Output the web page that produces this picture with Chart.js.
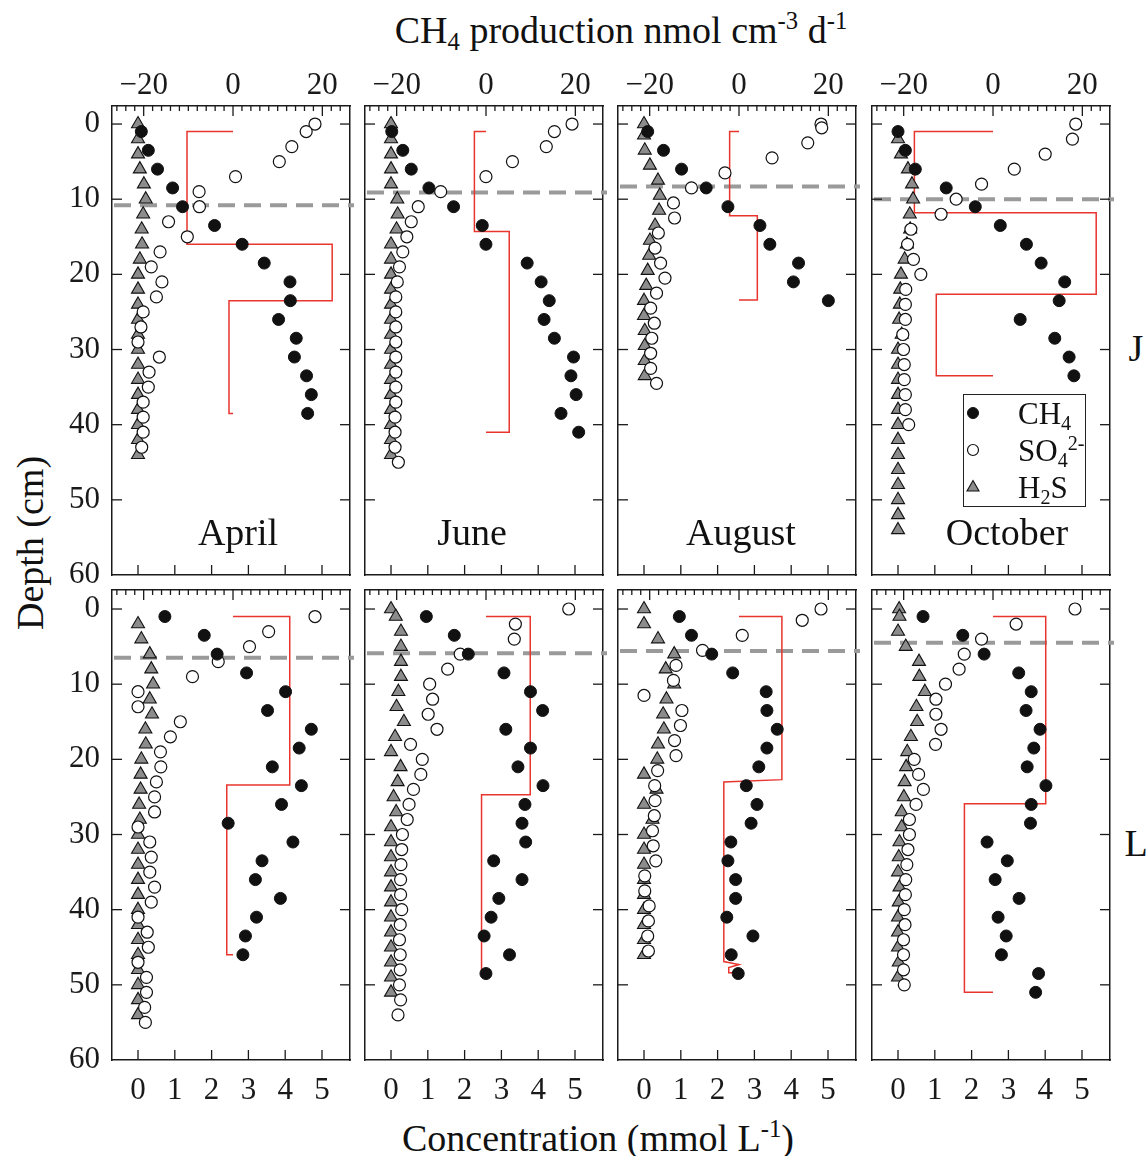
<!DOCTYPE html>
<html>
<head>
<meta charset="utf-8">
<script src="https://cdn.jsdelivr.net/npm/chart.js@4.4.0/dist/chart.umd.min.js"></script>
<style>
  body { margin: 0; background: #fff; }
  #fig { position: relative; width: 1148px; height: 1156px; overflow: hidden;
         font-family: 'Liberation Serif', 'Times New Roman', serif; color: #111; }
  #fig canvas { position: absolute; }
  .lbl { position: absolute; white-space: nowrap; line-height: 1; transform: translate(-50%, -50%); }
  .ttl { font-size: 38px; }
  .month { font-size: 38px; }
  sub, sup { font-size: 65%; line-height: 0; position: relative; vertical-align: baseline; }
  sub { top: 0.3em; }
  sup { top: -0.55em; }
  #legend { position: absolute; left: 963px; top: 394px; width: 121px; height: 111px; border: 1.2px solid #222; }
  .lg { position: absolute; left: 1018px; font-size: 31px; line-height: 1; transform: translateY(-50%); white-space: nowrap; }
  .lgsym { position: absolute; }
</style>
</head>
<body>
<div id="fig">
  <div class="lbl ttl" style="left:621px; top:30px;">CH<sub>4</sub> production nmol cm<sup>-3</sup> d<sup>-1</sup></div>
  <div class="lbl ttl" style="left:30px; top:543px; transform: translate(-50%, -50%) rotate(-90deg);">Depth (cm)</div>
  <div class="lbl ttl" style="left:598px; top:1138px;">Concentration (mmol L<sup>-1</sup>)</div>
  <div class="lbl ttl" style="left:1136px; top:348px;">J</div>
  <div class="lbl ttl" style="left:1136px; top:843px;">L</div>
</div>
<script>
// axis ticks
const concTicks = [0, 1, 2, 3, 4, 5];
const prodTicks = [-20, 0, 20];
const depthTicks = [0, 10, 20, 30, 40, 50, 60];
const months = ['April', 'June', 'August', 'October'];

// ---- site J ----
const jApr_ch4_d = [1, 3.5, 6, 8.5, 11, 13.5, 16, 18.5, 21, 23.5, 26, 28.5, 31, 33.5, 36, 38.5];
const jApr_ch4 = [0.09, 0.28, 0.53, 0.94, 1.21, 2.08, 2.83, 3.43, 4.13, 4.14, 3.82, 4.30, 4.25, 4.58, 4.71, 4.61];
const jApr_so4_d = [0, 1, 3, 5, 7, 9, 11, 13, 15, 17, 19, 21, 23, 25, 27, 29, 31, 33, 35, 37, 39, 41, 43];
const jApr_so4 = [4.81, 4.57, 4.18, 3.84, 2.65, 1.66, 1.67, 0.83, 1.34, 0.60, 0.36, 0.65, 0.50, 0.14, 0.08, 0, 0.58, 0.30, 0.28, 0.14, 0.14, 0.14, 0.10];
const jApr_h2s_d = [0, 2, 4, 6, 8, 10, 12, 14, 16, 18, 20, 22, 24, 26, 28, 30, 32, 34, 36, 38, 40, 42, 44];
const jApr_h2s = [0, 0, 0, 0.05, 0.16, 0.21, 0.14, 0.10, 0.11, 0.05, 0, 0, 0, 0, 0, 0, 0, 0, 0, 0, 0, 0, 0];
const jApr_prod_d = [1, 1, 16, 16, 23.5, 23.5, 38.5, 38.5];
const jApr_prod = [0, -10.3, -10.3, 22.2, 22.2, -0.9, -0.9, 0];

const jJun_ch4_d = [1, 3.5, 6, 8.5, 11, 13.5, 16, 18.5, 21, 23.5, 26, 28.5, 31, 33.5, 36, 38.5, 41];
const jJun_ch4 = [0.02, 0.32, 0.55, 1.03, 1.70, 2.48, 2.58, 3.70, 4.08, 4.30, 4.16, 4.44, 4.96, 4.89, 5.03, 4.62, 5.10];
const jJun_so4_d = [0, 1, 3, 5, 7, 9, 11, 13, 15, 17, 19, 21, 23, 25, 27, 29, 31, 33, 35, 37, 39, 41, 43, 45];
const jJun_so4 = [4.92, 4.44, 4.22, 3.30, 2.58, 1.35, 0.74, 0.55, 0.43, 0.32, 0.23, 0.17, 0.13, 0.13, 0.13, 0.13, 0.13, 0.13, 0.13, 0.13, 0.11, 0.11, 0.11, 0.20];
const jJun_h2s_d = [0, 2, 4, 6, 8, 10, 12, 14, 16, 18, 20, 22, 24, 26, 28, 30, 32, 34, 36, 38, 40, 42, 44];
const jJun_h2s = [0, 0, 0, 0, 0, 0.17, 0.18, 0.15, 0, 0, 0, 0, 0, 0, 0, 0, 0, 0, 0, 0, 0, 0, 0];
const jJun_prod_d = [1, 1, 14.3, 14.3, 41, 41];
const jJun_prod = [0, -2.6, -2.6, 5.2, 5.2, 0];

const jAug_ch4_d = [1, 3.5, 6, 8.5, 11, 13.5, 16, 18.5, 21, 23.5];
const jAug_ch4 = [0.10, 0.53, 1.02, 1.69, 2.28, 3.15, 3.42, 4.20, 4.06, 5.01];
const jAug_so4_d = [0, 0.5, 2.5, 4.5, 6.5, 8.5, 10.5, 12.5, 14.5, 16.5, 18.5, 20.5, 22.5, 24.5, 26.5, 28.5, 30.5, 32.5, 34.5];
const jAug_so4 = [4.81, 4.83, 4.45, 3.48, 2.20, 1.29, 0.80, 0.83, 0.39, 0.30, 0.45, 0.57, 0.34, 0.18, 0.28, 0.21, 0.18, 0.18, 0.34];
const jAug_h2s_d = [0, 1.5, 3.5, 5.5, 7.5, 9.5, 11.5, 13.5, 15.5, 17.5, 19.5, 21.5, 23.5, 25.5, 27.5, 29.5, 31.5, 33.5];
const jAug_h2s = [0, 0, 0.02, 0.16, 0.38, 0.43, 0.41, 0.30, 0.16, 0.14, 0.10, 0.06, 0, 0, 0.02, 0.02, 0.02, 0.02];
const jAug_prod_d = [1, 1, 12.2, 12.2, 23.4, 23.4];
const jAug_prod = [0, -2.1, -2.1, 4.1, 4.1, 0];

const jOct_ch4_d = [1, 3.5, 6, 8.5, 11, 13.5, 16, 18.5, 21, 23.5, 26, 28.5, 31, 33.5];
const jOct_ch4 = [0, 0.20, 0.47, 1.31, 2.10, 2.78, 3.49, 3.89, 4.53, 4.38, 3.32, 4.26, 4.65, 4.78];
const jOct_so4_d = [0, 2, 4, 6, 8, 10, 12, 14, 16, 18, 20, 22, 24, 26, 28, 30, 32, 34, 36, 38, 40];
const jOct_so4 = [4.83, 4.74, 4.00, 3.16, 2.27, 1.58, 1.17, 0.35, 0.26, 0.42, 0.62, 0.21, 0.20, 0.20, 0.13, 0.15, 0.17, 0.17, 0.20, 0.20, 0.29];
const jOct_h2s_d = [2, 4, 6, 8, 10, 12, 14, 16, 18, 20, 22, 24, 26, 28, 30, 32, 34, 36, 38, 40, 42, 44, 46, 48, 50, 52, 54];
const jOct_h2s = [0, 0.08, 0.27, 0.38, 0.41, 0.32, 0.33, 0.24, 0.18, 0.08, 0.06, 0.05, 0.03, 0.10, 0, 0, 0, 0, 0, 0, 0, 0, 0, 0, 0, 0, 0];
const jOct_prod_d = [1, 1, 11.8, 11.8, 22.65, 22.65, 33.5, 33.5];
const jOct_prod = [0, -17.6, -17.6, 23.1, 23.1, -12.7, -12.7, 0];

// ---- site L ----
const lApr_ch4_d = [1, 3.5, 6, 8.5, 11, 13.5, 16, 18.5, 21, 23.5, 26, 28.5, 31, 33.5, 36, 38.5, 41, 43.5, 46];
const lApr_ch4 = [0.73, 1.80, 2.15, 2.95, 4.01, 3.52, 4.71, 4.38, 3.65, 4.44, 3.90, 2.45, 4.21, 3.37, 3.19, 3.87, 3.22, 2.92, 2.85];
const lApr_so4_d = [1, 3, 5, 7, 9, 11, 13, 15, 17, 19, 21, 23, 25, 27, 29, 31, 33, 35, 37, 39, 41, 43, 45, 47, 49, 51, 53, 55];
const lApr_so4 = [4.81, 3.55, 3.03, 2.18, 1.48, 0, 0, 1.15, 0.88, 0.61, 0.62, 0.50, 0.45, 0.45, 0, 0.32, 0.36, 0.32, 0.45, 0.36, 0, 0.25, 0.28, 0, 0.23, 0.23, 0.18, 0.20];
const lApr_h2s_d = [2, 4, 6, 8, 10, 12, 14, 16, 18, 20, 22, 24, 26, 28, 30, 32, 34, 36, 38, 40, 42, 44, 46, 48, 50, 52, 54];
const lApr_h2s = [0, 0.09, 0.32, 0.36, 0.41, 0.32, 0.38, 0.20, 0.21, 0.09, 0.07, 0.07, 0.03, 0.05, 0, 0, 0, 0, 0, 0, 0, 0, 0, 0, 0, 0, 0];
const lApr_prod_d = [1, 1, 23.4, 23.4, 46, 46];
const lApr_prod = [0, 12.7, 12.7, -1.4, -1.4, 0];

const lJun_ch4_d = [1, 3.5, 6, 8.5, 11, 13.5, 16, 18.5, 21, 23.5, 26, 28.5, 31, 33.5, 36, 38.5, 41, 43.5, 46, 48.5];
const lJun_ch4 = [0.96, 1.72, 2.10, 3.07, 3.79, 4.12, 3.12, 3.79, 3.45, 4.13, 3.64, 3.56, 3.66, 2.79, 3.56, 2.93, 2.72, 2.53, 3.22, 2.58];
const lJun_so4_d = [0, 2, 4, 6, 8, 10, 12, 14, 16, 18, 20, 22, 24, 26, 28, 30, 32, 34, 36, 38, 40, 42, 44, 46, 48, 50, 52, 54];
const lJun_so4 = [4.83, 3.38, 3.35, 1.88, 1.54, 1.05, 1.13, 1.01, 1.25, 0.53, 0.85, 0.81, 0.61, 0.49, 0.44, 0.31, 0.29, 0.27, 0.26, 0.26, 0.29, 0.25, 0.23, 0.25, 0.25, 0.23, 0.26, 0.19];
const lJun_h2s_d = [0, 1, 3, 5, 7, 9, 11, 13, 15, 17, 19, 21, 23, 25, 27, 29, 31, 33, 35, 37, 39, 41, 43, 45, 47, 49, 51];
const lJun_h2s = [0, 0.13, 0.27, 0.27, 0.27, 0.27, 0.20, 0.15, 0.35, 0.11, 0, 0.26, 0.18, 0.07, 0.14, 0, 0, 0, 0, 0, 0, 0, 0, 0, 0, 0, 0];
const lJun_prod_d = [1, 1, 24.7, 24.7, 48.5, 48.5];
const lJun_prod = [0, 9.9, 9.9, -1.0, -1.0, 0];

const lAug_ch4_d = [1, 3.5, 6, 8.5, 11, 13.5, 16, 18.5, 21, 23.5, 26, 28.5, 31, 33.5, 36, 38.5, 41, 43.5, 46, 48.5];
const lAug_ch4 = [0.96, 1.29, 1.84, 2.41, 3.32, 3.34, 3.62, 3.34, 3.12, 2.78, 3.07, 2.91, 2.36, 2.28, 2.49, 2.49, 2.25, 2.96, 2.37, 2.56];
const lAug_so4_d = [0, 1.5, 3.5, 5.5, 7.5, 9.5, 11.5, 13.5, 15.5, 17.5, 19.5, 21.5, 23.5, 25.5, 27.5, 29.5, 31.5, 33.5, 35.5, 37.5, 39.5, 41.5, 43.5, 45.5];
const lAug_so4 = [4.81, 4.30, 2.67, 1.59, 0.87, 0.80, 0, 1.03, 0.99, 0.83, 0.87, 0.37, 0.29, 0.30, 0.28, 0.23, 0.25, 0.32, 0.02, 0.02, 0.14, 0.12, 0.10, 0.12];
const lAug_h2s_d = [0, 2, 4, 6, 8, 10, 12, 14, 16, 18, 20, 22, 24, 26, 28, 30, 32, 34, 36, 38, 40, 42, 44, 46];
const lAug_h2s = [0, 0, 0.38, 0.82, 0.59, 0.82, 0.61, 0.52, 0.54, 0.38, 0.36, 0, 0.34, 0, 0.23, 0, 0, 0, 0, 0, 0, 0, 0, 0];
const lAug_prod_d = [1, 1, 22.7, 23.0, 46.9, 47.3, 47.7, 48.4, 48.4];
const lAug_prod = [0, 9.6, 9.6, -3.4, -3.4, 0, -2.3, -2.3, -0.6];

const lOct_ch4_d = [1, 3.5, 6, 8.5, 11, 13.5, 16, 18.5, 21, 23.5, 26, 28.5, 31, 33.5, 36, 38.5, 41, 43.5, 46, 48.5, 51];
const lOct_ch4 = [0.68, 1.76, 2.34, 3.28, 3.62, 3.48, 3.86, 3.69, 3.51, 4.02, 3.62, 3.60, 2.42, 2.97, 2.64, 3.29, 2.72, 2.94, 2.81, 3.82, 3.74];
const lOct_so4_d = [0, 2, 4, 6, 8, 10, 12, 14, 16, 18, 20, 22, 24, 26, 28, 30, 32, 34, 36, 38, 40, 42, 44, 46, 48, 50];
const lOct_so4 = [4.81, 3.21, 2.27, 1.80, 1.66, 1.29, 1.03, 1.03, 1.17, 1.02, 0.44, 0.56, 0.69, 0.49, 0.31, 0.31, 0.27, 0.24, 0.21, 0.20, 0.17, 0.19, 0.15, 0.15, 0.15, 0.17];
const lOct_h2s_d = [0, 1, 3, 5, 7, 9, 11, 13, 15, 17, 19, 21, 23, 25, 27, 29, 31, 33, 35, 37, 39, 41, 43, 45, 47, 49];
const lOct_h2s = [0.03, 0.04, 0, 0.21, 0.57, 0.58, 0.73, 0.50, 0.52, 0.35, 0.25, 0.22, 0.18, 0.16, 0.10, 0.10, 0.04, 0.02, 0, 0.04, 0.02, 0, 0, 0, 0.02, 0];
const lOct_prod_d = [1, 1, 25.9, 25.9, 51, 51];
const lOct_prod = [0, 11.8, 11.8, -6.4, -6.4, 0];

// depth of the dashed line per month
const smtzJ = [10.8, 9.1, 8.3, 10.0];
const smtzL = [6.5, 5.9, 5.6, 4.5];

const panels = [
  [jApr_ch4_d, jApr_ch4, jApr_so4_d, jApr_so4, jApr_h2s_d, jApr_h2s, jApr_prod_d, jApr_prod],
  [jJun_ch4_d, jJun_ch4, jJun_so4_d, jJun_so4, jJun_h2s_d, jJun_h2s, jJun_prod_d, jJun_prod],
  [jAug_ch4_d, jAug_ch4, jAug_so4_d, jAug_so4, jAug_h2s_d, jAug_h2s, jAug_prod_d, jAug_prod],
  [jOct_ch4_d, jOct_ch4, jOct_so4_d, jOct_so4, jOct_h2s_d, jOct_h2s, jOct_prod_d, jOct_prod],
  [lApr_ch4_d, lApr_ch4, lApr_so4_d, lApr_so4, lApr_h2s_d, lApr_h2s, lApr_prod_d, lApr_prod],
  [lJun_ch4_d, lJun_ch4, lJun_so4_d, lJun_so4, lJun_h2s_d, lJun_h2s, lJun_prod_d, lJun_prod],
  [lAug_ch4_d, lAug_ch4, lAug_so4_d, lAug_so4, lAug_h2s_d, lAug_h2s, lAug_prod_d, lAug_prod],
  [lOct_ch4_d, lOct_ch4, lOct_so4_d, lOct_so4, lOct_h2s_d, lOct_h2s, lOct_prod_d, lOct_prod]
];

// layout
const colLeft = [112, 365, 618, 872];
const rowTop = [106, 590];
const rowH = [469, 470];
const PW = 238;
const ML = 70, MR = 20, MT = 60, MB = 50;
const yMinRow = [-2.4, -2.53];
const X_MIN = -0.707, X_MAX = 5.761;
const X2_MIN = -27.09, X2_MAX = 26.19;
const INK = '#1a1a1a';

Chart.defaults.font.family = "'Liberation Serif', 'Times New Roman', serif";
Chart.defaults.color = INK;

const pts = (ys, xs) => xs.map((x, i) => ({ x: x, y: ys[i] }));
const fixTicks = vals => s => { s.ticks = vals.map(v => ({ value: v })); };
const minus = v => (v < 0 ? '\u2212' + Math.abs(v) : String(v));

// dashed line + inward tick marks
const panelDeco = {
  id: 'panelDeco',
  beforeDatasetsDraw(chart, args, opts) {
    const { ctx, chartArea: a, scales } = chart;
    const y = scales.y.getPixelForValue(opts.smtz);
    ctx.save();
    ctx.strokeStyle = '#9a9a9a';
    ctx.lineWidth = 4;
    ctx.setLineDash([17, 9]);
    ctx.beginPath();
    ctx.moveTo(a.left + 2, y);
    ctx.lineTo(a.right + 4, y);
    ctx.stroke();
    ctx.restore();
  },
  afterDraw(chart) {
    const { ctx, chartArea: a, scales } = chart;
    ctx.save();
    ctx.strokeStyle = INK;
    ctx.lineWidth = 1.3;
    const seg = (x1, y1, x2, y2) => { ctx.beginPath(); ctx.moveTo(x1, y1); ctx.lineTo(x2, y2); ctx.stroke(); };
    depthTicks.forEach(v => {
      const y = scales.y.getPixelForValue(v);
      if (y >= a.bottom - 1) return;
      seg(a.left, y, a.left + 10, y);
      seg(a.right, y, a.right - 10, y);
    });
    concTicks.forEach(v => {
      const x = scales.x.getPixelForValue(v);
      seg(x, a.bottom, x, a.bottom - 10);
    });
    for (let v = -26; v <= 26; v += 2) {
      const x = scales.x2.getPixelForValue(v);
      if (x <= a.left + 1 || x >= a.right - 1) continue;
      seg(x, a.top, x, a.top + (v % 20 === 0 ? 10 : 5));
    }
    ctx.restore();
  }
};

const fig = document.getElementById('fig');

panels.forEach((p, k) => {
  const row = Math.floor(k / 4), col = k % 4;
  const cv = document.createElement('canvas');
  const w = PW + ML + MR, h = rowH[row] + MT + MB;
  cv.width = w; cv.height = h;
  cv.style.left = (colLeft[col] - ML) + 'px';
  cv.style.top = (rowTop[row] - MT) + 'px';
  cv.style.width = w + 'px'; cv.style.height = h + 'px';
  fig.appendChild(cv);

  const border = { display: true, color: INK, width: 1.5 };
  const tickFont = { size: 31 };

  new Chart(cv, {
    type: 'scatter',
    data: {
      datasets: [
        { label: 'CH4', data: pts(p[0], p[1]), xAxisID: 'x', yAxisID: 'y',
          pointStyle: 'circle', pointRadius: 6, backgroundColor: '#111', borderColor: '#111', borderWidth: 1 },
        { label: 'SO4', data: pts(p[2], p[3]), xAxisID: 'x', yAxisID: 'y',
          pointStyle: 'circle', pointRadius: 6, backgroundColor: '#fff', borderColor: '#111', borderWidth: 1.2 },
        { label: 'H2S', data: pts(p[4], p[5]), xAxisID: 'x', yAxisID: 'y',
          pointStyle: 'triangle', pointRadius: 7.5, backgroundColor: '#8c8c8c', borderColor: '#111', borderWidth: 1.1 },
        { label: 'production', data: pts(p[6], p[7]), xAxisID: 'x2', yAxisID: 'y',
          showLine: true, pointRadius: 0, borderColor: '#e8352e', borderWidth: 1.5, tension: 0, fill: false }
      ]
    },
    options: {
      responsive: false,
      animation: false,
      events: [],
      layout: { padding: 0 },
      plugins: {
        legend: { display: false },
        tooltip: { enabled: false },
        panelDeco: { smtz: row === 0 ? smtzJ[col] : smtzL[col] }
      },
      scales: {
        x: {
          type: 'linear', position: 'bottom', min: X_MIN, max: X_MAX,
          afterBuildTicks: fixTicks(concTicks),
          afterFit: s => { s.height = MB; },
          grid: { display: false, drawTicks: false }, border: border,
          ticks: { display: row === 1, padding: 12, font: tickFont, maxRotation: 0 }
        },
        x2: {
          type: 'linear', position: 'top', min: X2_MIN, max: X2_MAX,
          afterBuildTicks: fixTicks(prodTicks),
          afterFit: s => { s.height = MT; },
          grid: { display: false, drawTicks: false }, border: border,
          ticks: { display: row === 0, padding: 2, font: tickFont, maxRotation: 0, callback: minus }
        },
        y: {
          type: 'linear', position: 'left', reverse: true, min: yMinRow[row], max: 60,
          afterBuildTicks: fixTicks(depthTicks),
          afterFit: s => { s.width = ML; },
          grid: { display: false, drawTicks: false }, border: border,
          ticks: { display: col === 0, padding: 12, font: tickFont }
        },
        y2: {
          type: 'linear', position: 'right', reverse: true, min: yMinRow[row], max: 60,
          afterBuildTicks: fixTicks(depthTicks),
          afterFit: s => { s.width = MR; },
          grid: { display: false, drawTicks: false }, border: border,
          ticks: { display: false }
        }
      }
    },
    plugins: [panelDeco]
  });
});

// month labels (top row)
const monthPos = [[238, 532], [472, 532], [741, 532], [1007, 532]];
months.forEach((m, i) => {
  const d = document.createElement('div');
  d.className = 'lbl month';
  d.style.left = monthPos[i][0] + 'px';
  d.style.top = monthPos[i][1] + 'px';
  d.textContent = m;
  fig.appendChild(d);
});

// legend in the October panel
const lg = document.createElement('div');
lg.id = 'legend';
fig.appendChild(lg);
const legendRows = [
  ['CH<sub>4</sub>', '<circle cx="8" cy="8" r="5.5" fill="#111" stroke="#111"/>', 413],
  ['SO<sub>4</sub><sup>2-</sup>', '<circle cx="8" cy="8" r="5.5" fill="#fff" stroke="#111" stroke-width="1.2"/>', 450],
  ['H<sub>2</sub>S', '<polygon points="8,1.5 14,12 2,12" fill="#8c8c8c" stroke="#111" stroke-width="1.1"/>', 487]
];
legendRows.forEach(r => {
  const s = document.createElement('div');
  s.className = 'lgsym';
  s.style.left = '965px';
  s.style.top = (r[2] - 8) + 'px';
  s.innerHTML = '<svg width="16" height="16">' + r[1] + '</svg>';
  fig.appendChild(s);
  const t = document.createElement('div');
  t.className = 'lg';
  t.style.top = r[2] + 'px';
  t.innerHTML = r[0];
  fig.appendChild(t);
});
</script>
</body>
</html>
